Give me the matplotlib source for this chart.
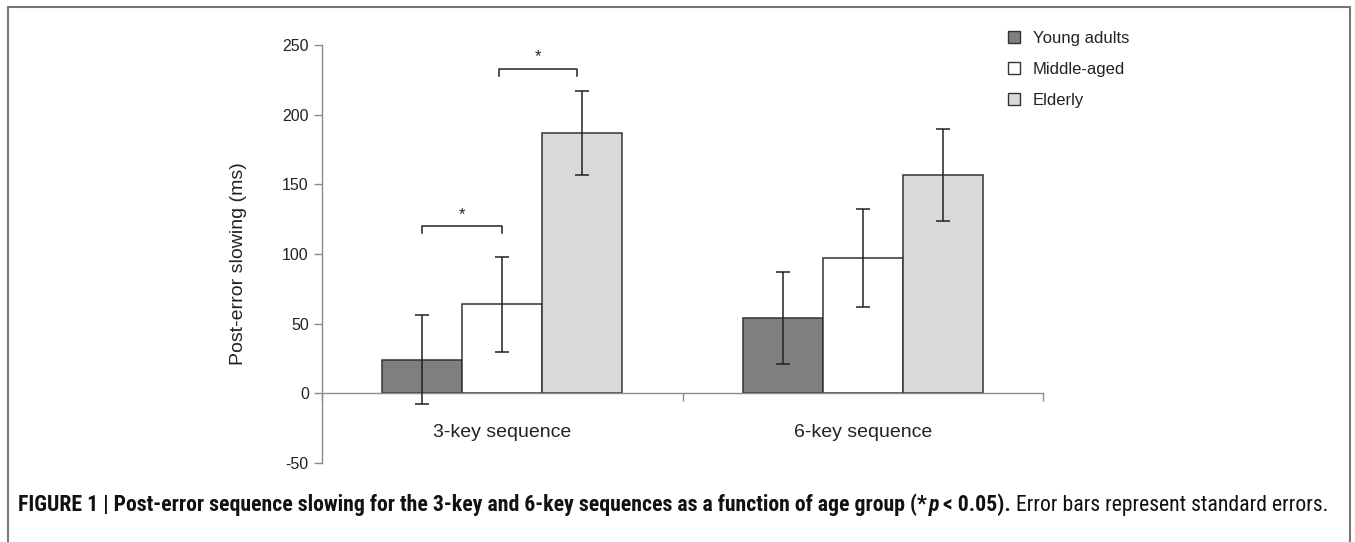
import numpy as np
import matplotlib.pyplot as plt
from matplotlib import font_manager
from matplotlib.patches import Patch, Rectangle

# data (ms)
sequences = ['3-key sequence', '6-key sequence']
groups = ['Young adults', 'Middle-aged', 'Elderly']
young_mean = [24, 54]
middle_mean = [64, 97]
elderly_mean = [187, 157]
young_se = [32, 33]
middle_se = [34, 35]
elderly_se = [30, 33]
colors = ['#7f7f7f', '#ffffff', '#d9d9d9']

W, H = 1355, 542
plt.rcParams['font.family'] = ['Liberation Sans', 'DejaVu Sans']
plt.rcParams['axes.unicode_minus'] = False
fig = plt.figure(figsize=(W / 100, H / 100), dpi=100)

ax = fig.add_axes([322 / W, 1 - 463 / H, 721 / W, 418 / H])

x = np.arange(len(sequences))
bw = 80 / 361
means = [young_mean, middle_mean, elderly_mean]
ses = [young_se, middle_se, elderly_se]
for i in range(3):
    ax.bar(x + (i - 1) * bw, means[i], bw, color=colors[i], edgecolor='#333333',
           linewidth=1.1, label=groups[i], zorder=2)
    ax.errorbar(x + (i - 1) * bw, means[i], yerr=ses[i], fmt='none',
                ecolor='#222222', elinewidth=1.1, capsize=5, capthick=1.1, zorder=3)

# significance brackets (3-key sequence)
def bracket(x0, x1, y, h=5):
    ax.plot([x0, x0, x1, x1], [y - h, y, y, y - h], color='#222222', lw=1.1, zorder=3)
    ax.text((x0 + x1) / 2, y + 3, '*', ha='center', va='bottom', fontsize=12, color='#222222')

bracket(x[0] - bw, x[0], 120)
bracket(x[0] - 0.01, x[0] + bw - 0.015, 233)

ax.set_xlim(-0.5, 1.5)
ax.set_ylim(-50, 250)
ax.set_yticks(np.arange(-50, 251, 50))
ax.set_xticks([-0.5, 0.5, 1.5])
ax.set_xticklabels([])
for s in ['top', 'right']:
    ax.spines[s].set_visible(False)
ax.spines['bottom'].set_position(('data', 0))
for s in ['left', 'bottom']:
    ax.spines[s].set_color('#8c8c8c')
    ax.spines[s].set_linewidth(1.0)
ax.tick_params(axis='both', direction='out', length=5.5, width=1.0, color='#8c8c8c',
               labelsize=11.5, labelcolor='#222222', pad=4)
for xi, name in zip(x, sequences):
    ax.text(xi, -28, name, ha='center', va='center', fontsize=14, color='#222222')

ax.set_ylabel('Post-error slowing (ms)', fontsize=14, color='#222222')
ax.yaxis.set_label_coords(-0.104, 0.478)

handles = [Patch(facecolor=c, edgecolor='#333333', linewidth=1.0) for c in colors]
ax.legend(handles, groups, loc='upper left', bbox_to_anchor=(1008 / W, 1 - 31 / H),
          bbox_transform=fig.transFigure, frameon=False, fontsize=12,
          handlelength=0.7, handleheight=0.7, handletextpad=0.8, labelspacing=0.95,
          borderaxespad=0, borderpad=0, labelcolor='#222222')

# outer frame
fig.patches.append(Rectangle((8 / W, -0.05), (1350 - 8) / W, 1.05 - 7 / H,
                             transform=fig.transFigure, fill=False,
                             edgecolor='#777777', linewidth=1.5))

# caption with mixed weights, narrow font if one exists
names = {f.name for f in font_manager.fontManager.ttflist}
cap_font = ['Liberation Sans']
for cand in ['Liberation Sans Narrow', 'DejaVu Sans Condensed', 'Roboto Condensed',
             'Open Sans Condensed', 'Noto Sans Condensed']:
    if cand in names:
        cap_font = [cand]
        break

cap_y = 1 - 505 / H
renderer = fig.canvas.get_renderer()
pieces = [
    ('FIGURE 1 | Post-error sequence slowing for the 3-key and 6-key sequences as a function of age group (*', 'bold', 'normal', 0),
    ('p', 'bold', 'italic', 2),
    ('< 0.05).', 'bold', 'normal', 4),
    ('Error bars represent standard errors.', 'normal', 'normal', 5),
]


def draw_caption(size):
    texts = []
    cx = 18
    for txt, wt, st, gap in pieces:
        cx += gap
        t = fig.text(cx / W, cap_y, txt, fontsize=size, fontweight=wt, fontstyle=st,
                     family=cap_font, color='#111111', va='center', ha='left')
        cx = t.get_window_extent(renderer).x1
        texts.append(t)
    return texts, cx


# fit the caption to the width it spans in the reference
size = 13.5
texts, end = draw_caption(size)
for t in texts:
    t.remove()
size = size * (1334 - 18) / (end - 18)
texts, end = draw_caption(size)

fig.savefig('out.png', dpi=100)
